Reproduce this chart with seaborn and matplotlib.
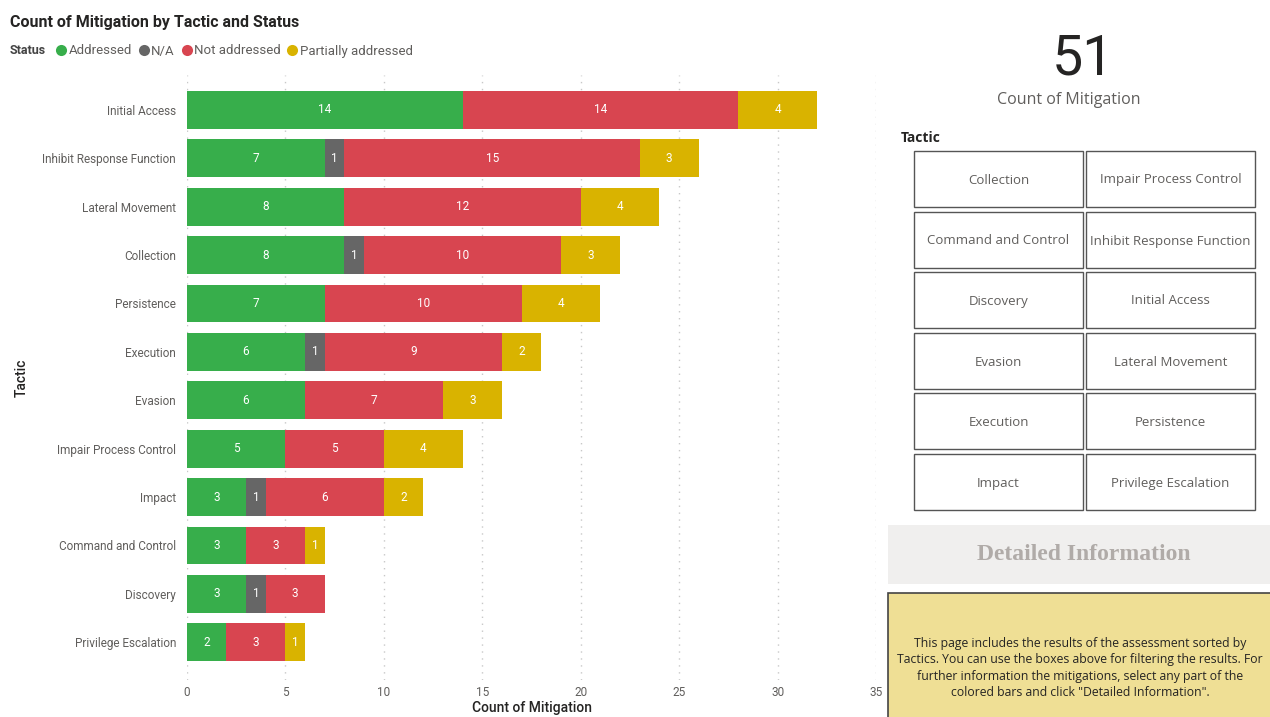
import matplotlib
matplotlib.use("Agg")
import matplotlib.pyplot as plt
import seaborn as sns
import numpy as np
import pandas as pd
from matplotlib.lines import Line2D
from matplotlib.patches import Rectangle

# ---------------- data ----------------
tactics = ["Initial Access", "Inhibit Response Function", "Lateral Movement", "Collection",
           "Persistence", "Execution", "Evasion", "Impair Process Control", "Impact",
           "Command and Control", "Discovery", "Privilege Escalation"]
statuses = ["Addressed", "N/A", "Not addressed", "Partially addressed"]
addressed = [14, 7, 8, 8, 7, 6, 6, 5, 3, 3, 3, 2]
na = [0, 1, 0, 1, 0, 1, 0, 0, 1, 0, 1, 0]
not_addressed = [14, 15, 12, 10, 10, 9, 7, 5, 6, 3, 3, 3]
partially = [4, 3, 4, 3, 4, 2, 3, 4, 2, 1, 0, 1]
colors = ["#37AE4B", "#666666", "#D84550", "#D9B300"]
x_ticks = [0, 5, 10, 15, 20, 25, 30, 35]
kpi_value = "51"
kpi_label = "Count of Mitigation"
slicer_items = ["Collection", "Impair Process Control", "Command and Control",
                "Inhibit Response Function", "Discovery", "Initial Access", "Evasion",
                "Lateral Movement", "Execution", "Persistence", "Impact", "Privilege Escalation"]
info_text = ("This page includes the results of the assessment sorted by\n"
             "Tactics. You can use the boxes above for filtering the results. For\n"
             "further information the mitigations, select any part of the\n"
             "colored bars and click \"Detailed Information\".")

series = [addressed, na, not_addressed, partially]
vals = np.array(series, dtype=float)
cum = np.cumsum(vals, axis=0)

W, H = 1270, 717
fig = plt.figure(figsize=(W / 100, H / 100), dpi=100)
sns.set_style("white")
plt.rcParams["font.family"] = ["Roboto", "DejaVu Sans"]

# overlay axes in pixel coordinates for the side panel
ov = fig.add_axes([0, 0, 1, 1])
ov.set_xlim(0, W)
ov.set_ylim(H, 0)
ov.axis("off")
ov.patch.set_alpha(0)

# ---------------- main chart ----------------
ax = fig.add_axes([187 / W, 1 - 680 / H, 689 / W, (680 - 75) / H])
df = pd.DataFrame({"Tactic": tactics})
for k in range(3, -1, -1):
    df["cum"] = cum[k]
    sns.barplot(data=df, x="cum", y="Tactic", orient="h", color=colors[k],
                saturation=1, width=0.78, linewidth=0, ax=ax, order=tactics)

for k in range(4):
    for i, t in enumerate(tactics):
        v = vals[k, i]
        if v > 0:
            left = cum[k, i] - v
            ax.text(left + v / 2, i, f"{int(v)}", color="white", ha="center",
                    va="center", fontsize=8.5)

ax.set_xlim(0, 35)
ax.set_ylim(11.78, -0.72)
ax.set_xticks(x_ticks)
ax.set_xticklabels([str(t) for t in x_ticks])
ax.tick_params(axis="both", length=0, labelsize=8.5, colors="#605E5C")
ax.tick_params(axis="y", pad=8)
ax.tick_params(axis="x", pad=4)
for s in ax.spines.values():
    s.set_visible(False)
ax.xaxis.grid(True, linestyle=(0, (1, 4)), color="#C8C8C8", linewidth=1)
ax.set_axisbelow(True)
ax.set_xlabel("Count of Mitigation", fontsize=10, color="#252423", fontweight="medium", labelpad=2)
ax.set_ylabel("Tactic", fontsize=10, color="#252423", fontweight="medium", labelpad=10)

# title & legend
fig.text(10 / W, 1 - 22 / H, "Count of Mitigation by Tactic and Status", fontsize=11.5,
         fontweight="bold", color="#252423", va="center", ha="left")
fig.text(10 / W, 1 - 51 / H, "Status", fontsize=9, fontweight="bold", color="#444444",
         va="center", ha="left")
handles = [Line2D([0], [0], marker="o", linestyle="", markersize=8, markerfacecolor=c,
                  markeredgewidth=0) for c in colors]
fig.legend(handles, statuses, loc="center left", bbox_to_anchor=(54 / W, 1 - 51 / H),
           ncol=4, frameon=False, handletextpad=0.0, columnspacing=0.35, handlelength=1.1,
           borderpad=0, borderaxespad=0, prop={"size": 9.5}, labelcolor="#605E5C")

# ---------------- side panel ----------------
ov.text(1083, 59, kpi_value, fontsize=40, color="#252423", ha="center", va="center")
ov.text(1069, 100, kpi_label, fontsize=11.5, color="#605E5C", ha="center", va="center",
        family=["Open Sans", "DejaVu Sans"])
ov.text(901, 138, "Tactic", fontsize=10, fontweight="bold", color="#252423", ha="left",
        va="center", family=["Open Sans", "DejaVu Sans"])

col_x = [914, 1086]
tile_w = 169
row_y = [151, 212, 272, 333, 393, 454]
tile_h = 56
for idx, name in enumerate(slicer_items):
    r, c = divmod(idx, 2)
    x0, y0 = col_x[c], row_y[r]
    ov.add_patch(Rectangle((x0, y0), tile_w, tile_h, facecolor="white",
                           edgecolor="#555555", linewidth=1))
    ov.text(x0 + tile_w / 2, y0 + tile_h / 2 + 1, name, fontsize=9.5, color="#605E5C",
            ha="center", va="center", family=["Open Sans", "DejaVu Sans"])

ov.add_patch(Rectangle((888, 525), 390, 59, facecolor="#F0EFEE", edgecolor="none"))
ov.text(1084, 555, "Detailed Information", fontsize=17, fontweight="bold", color="#B0ABA8",
        ha="center", va="center", family=["Liberation Serif", "DejaVu Serif"])

ov.add_patch(Rectangle((888, 593), 390, 130, facecolor="#EFDF95", edgecolor="#444444",
                       linewidth=1.2))
ov.text(1080, 668, info_text, fontsize=8.8, color="#252423", ha="center", va="center",
        linespacing=1.35, family=["Open Sans", "DejaVu Sans"])

fig.savefig("out.png", dpi=100)
